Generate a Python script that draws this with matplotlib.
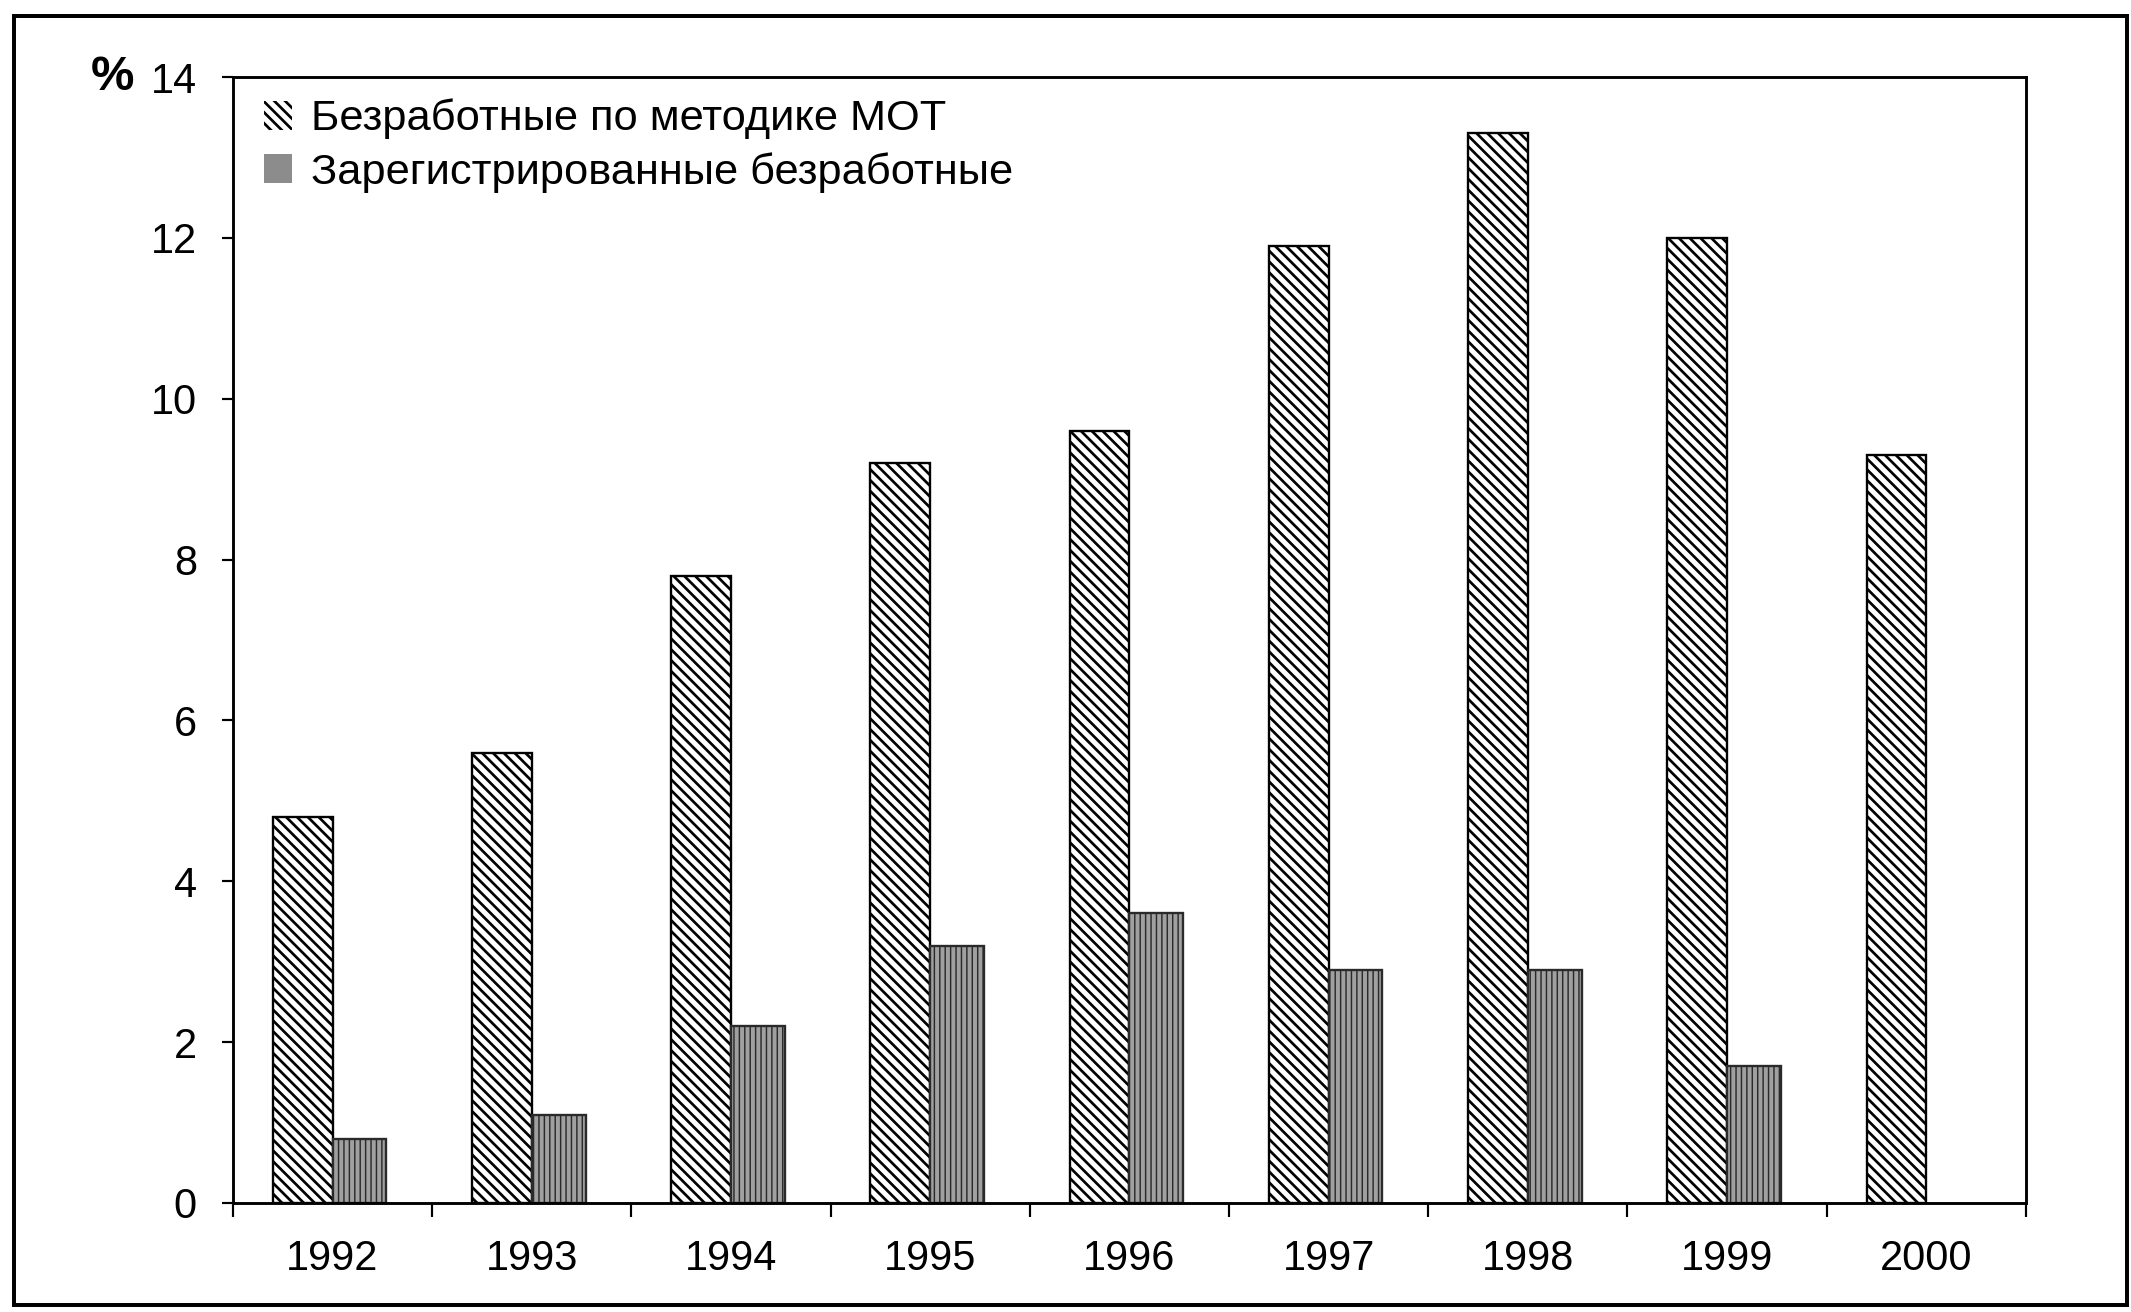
import numpy as np
import matplotlib
matplotlib.use("Agg")
import matplotlib.pyplot as plt
from matplotlib.patches import Patch, Rectangle

# Data
years = ["1992", "1993", "1994", "1995", "1996", "1997", "1998", "1999", "2000"]
ilo_unemployed = [4.8, 5.6, 7.8, 9.2, 9.6, 11.9, 13.3, 12.0, 9.3]
registered = [0.8, 1.1, 2.2, 3.2, 3.6, 2.9, 2.9, 1.7]
yticks = [0, 2, 4, 6, 8, 10, 12, 14]
label_ilo = "Безработные по методике МОТ"
label_reg = "Зарегистрированные безработные"

DPI = 130
plt.rcParams["font.family"] = ["Liberation Sans", "DejaVu Sans"]
plt.rcParams["hatch.linewidth"] = 1.5

fig = plt.figure(figsize=(2131 / DPI, 1312 / DPI), dpi=DPI)
ax = fig.add_axes([0.1093, 0.0831, 0.8414, 0.8582])

x = np.arange(len(years))

# hatched bars (ILO method)
ax.bar(x - 0.30, ilo_unemployed, width=0.30, align="edge",
       facecolor="white", edgecolor="black", linewidth=1.3,
       hatch="\\\\\\\\", zorder=2)

# registered unemployed: grey with thin vertical lines
with plt.rc_context({"hatch.linewidth": 0.8}):
    ax.bar(x[:len(registered)], registered, width=0.27, align="edge",
           facecolor="#a0a0a0", edgecolor="#2a2a2a", linewidth=1.3,
           hatch="||||", zorder=2)

ax.set_xlim(-0.5, len(years) - 0.5)
ax.set_ylim(0, 14)

# y axis
ax.set_yticks(yticks)
ax.tick_params(axis="y", direction="out", length=6, width=1.2,
               pad=14, labelsize=23)
ax.text(-0.067, 14, "%", transform=ax.get_yaxis_transform(),
        ha="center", va="center", fontsize=27, fontweight="bold")

# x axis: tick marks at boundaries, labels at centres
ax.set_xticks(np.arange(-0.5, len(years), 1.0))
ax.set_xticklabels([])
ax.set_xticks(x, minor=True)
ax.set_xticklabels(years, minor=True)
ax.tick_params(axis="x", which="major", direction="out", length=8, width=1.2)
ax.tick_params(axis="x", which="minor", length=0, pad=20, labelsize=23)

for s in ax.spines.values():
    s.set_linewidth(1.6)

handles = [
    Patch(facecolor="white", edgecolor="black", hatch="\\\\\\\\", linewidth=0),
    Patch(facecolor="#8c8c8c", edgecolor="#8c8c8c", linewidth=0),
]
ax.legend(handles, [label_ilo, label_reg], loc="upper left",
          bbox_to_anchor=(0.005, 1.0), frameon=False, fontsize=24,
          handlelength=0.65, handleheight=0.65, handletextpad=0.45,
          labelspacing=0.3, borderpad=0.0)

# outer frame of the scanned figure
fig.patches.append(Rectangle((14 / 2131, 7 / 1312), (2127 - 14) / 2131,
                             (1296 - 7) / 1312, transform=fig.transFigure,
                             fill=False, edgecolor="black", linewidth=2.2))

fig.savefig("out.png", dpi=DPI)
